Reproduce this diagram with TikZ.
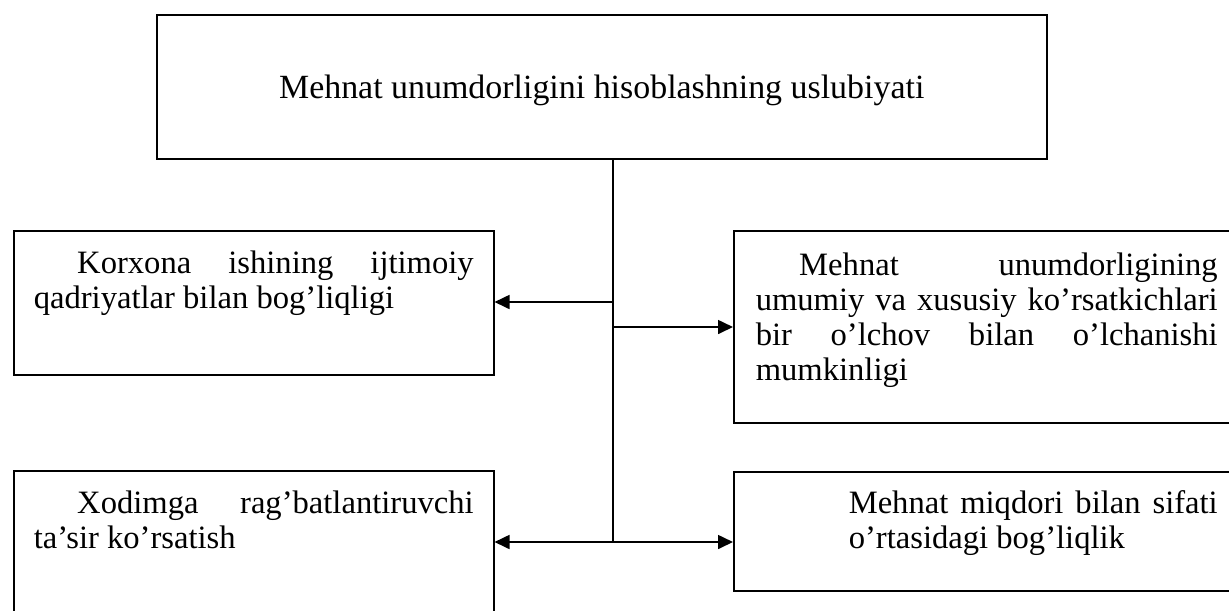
\documentclass[tikz,border=0pt]{standalone}
\usepackage{fontspec}
\setmainfont{Liberation Serif}
\usetikzlibrary{positioning,arrows.meta}

\begin{document}
\begin{tikzpicture}[x=0.46pt,y=-0.46pt,
  font=\fontsize{15}{16.1}\selectfont,
  box/.style={draw,line width=0.7pt,anchor=north west,inner xsep=9.2pt,inner ysep=0pt},
  txt/.style={text width=#1,align=justify},
  arr/.style={line width=0.9pt,-{Triangle[length=6.9pt,width=6.4pt]}}]
\useasboundingbox (0,0) rectangle (1229,610);
% Main box
\node[box,font=\fontsize{15.6}{16.1}\selectfont,minimum width=409.4pt,text height=38.64pt,text depth=27.6pt] (top) at (156,14)
  {Mehnat unumdorligini hisoblashning uslubiyati};
% Left boxes
\node[box,txt=202.4pt,text height=19.78pt,text depth=46.46pt] (lbox1) at (13,230)
  {\hspace*{20pt}Korxona ishining ijtimoiy\linebreak qadriyatlar bilan bog’liqligi};
\node[box,txt=202.4pt,text height=19.78pt,text depth=49.22pt] (lbox2) at (13,470)
  {\hspace*{20pt}Xodimga rag’batlantiruvchi\linebreak ta’sir ko’rsatish};
% Right boxes
\node[box,inner xsep=10.12pt,txt=212.52pt,text height=20.7pt,text depth=67.62pt] (rbox1) at (733,230)
  {\hspace*{20pt}Mehnat unumdorligining\linebreak umumiy va xususiy ko’rsatkichlari\linebreak bir o’lchov bilan o’lchanishi\linebreak mumkinligi};
\node[box,inner xsep=10.12pt,txt=212.52pt,text height=19.32pt,text depth=35.42pt] (rbox2) at (733,471)
  {\leftskip=42.78pt Mehnat miqdori bilan sifati\linebreak o’rtasidagi bog’liqlik\par};
% Connectors
\coordinate (trunk) at (613,542);
\coordinate (jl) at (613,302);
\coordinate (jr) at (613,327);
\draw[line width=0.6pt] (top.south -| trunk) -- (trunk);
\draw[arr] (jl) -- (jl -| lbox1.east);
\draw[arr] (jr) -- (jr -| rbox1.west);
\draw[arr] (trunk) -- (trunk -| lbox2.east);
\draw[arr] (trunk) -- (trunk -| rbox2.west);
\end{tikzpicture}
\end{document}
